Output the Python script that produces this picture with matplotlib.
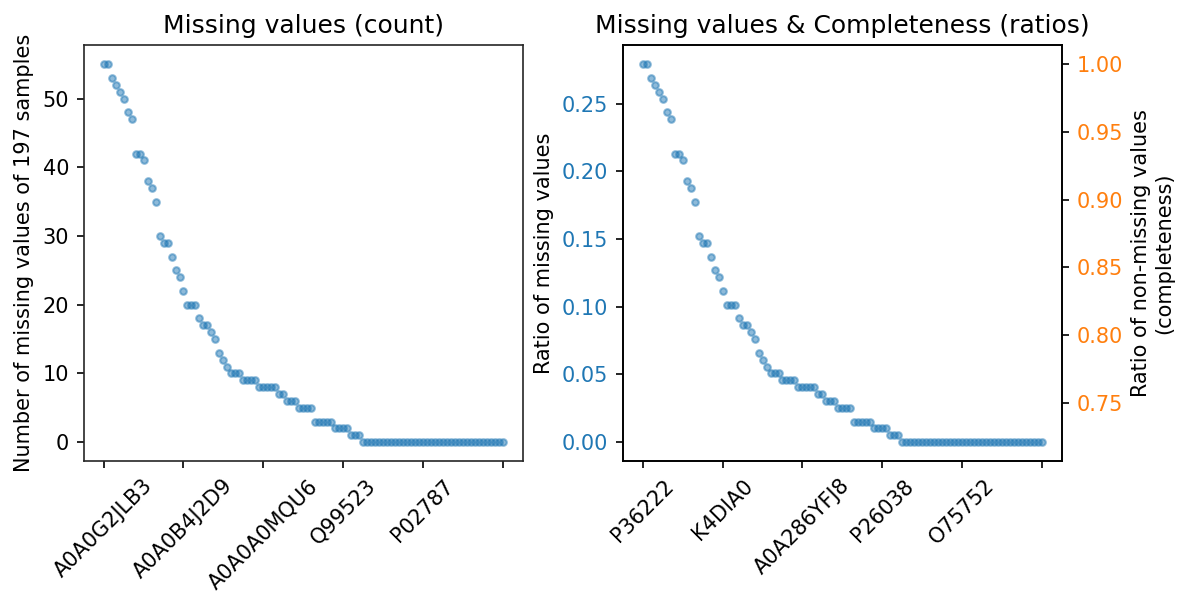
import numpy as np
import matplotlib
matplotlib.use("Agg")
import matplotlib.pyplot as plt

n_samples = 197

# number of missing values per protein, sorted descending (101 proteins)
missing_counts = ([55, 55, 53, 52, 51, 50, 48, 47, 42, 42, 41, 38, 37, 35, 30,
                   29, 29, 27, 25, 24, 22, 20, 20, 20, 18, 17, 17, 16, 15, 13,
                   12, 11, 10, 10, 10, 9, 9, 9, 9, 8, 8, 8, 8, 8, 7, 7, 6, 6, 6,
                   5, 5, 5, 5, 3, 3, 3, 3, 3, 2, 2, 2, 2, 1, 1, 1]
                  + [0] * 36)

left_ticks = [0, 20, 40, 60, 80, 100]
left_labels = ["A0A0G2JLB3", "A0A0B4J2D9", "A0A0A0MQU6", "Q99523", "P02787", ""]
right_labels = ["P36222", "K4DIA0", "A0A286YFJ8", "P26038", "O75752", ""]

counts = np.array(missing_counts)
ratios = counts / n_samples
idx = np.arange(len(counts))

blue = "#1f77b4"
orange = "#ff7f0e"

fig = plt.figure(figsize=(1193 / 150, 605 / 150), dpi=150)
ax1 = fig.add_axes([0.0702, 0.238, 0.3679, 0.6871])
ax2 = fig.add_axes([0.5222, 0.238, 0.3677, 0.6871])

# left: counts
ax1.scatter(idx, counts, s=10, alpha=0.5, color=blue)
ax1.set_title("Missing values (count)")
ax1.set_ylabel("Number of missing values of 197 samples")
ax1.set_xticks(left_ticks)
ax1.set_xticklabels(left_labels, rotation=45)
for sp in ax1.spines.values():
    sp.set_color("#262626")

# right: ratios + completeness
ax2.scatter(idx, ratios, s=10, alpha=0.5, color=blue)
ax2.set_title("Missing values & Completeness (ratios)")
ax2.set_ylabel("Ratio of missing values")
ax2.tick_params(axis="y", labelcolor=blue)
ax2.set_xticks(left_ticks)
ax2.set_xticklabels(right_labels, rotation=45)

ax3 = ax2.twinx()
lo, hi = ax2.get_ylim()
ax3.set_ylim(1 - hi, 1 - lo)
ax3.set_ylabel("Ratio of non-missing values\n(completeness)")
ax3.tick_params(axis="y", labelcolor=orange)

fig.savefig("out.png", dpi=150)
